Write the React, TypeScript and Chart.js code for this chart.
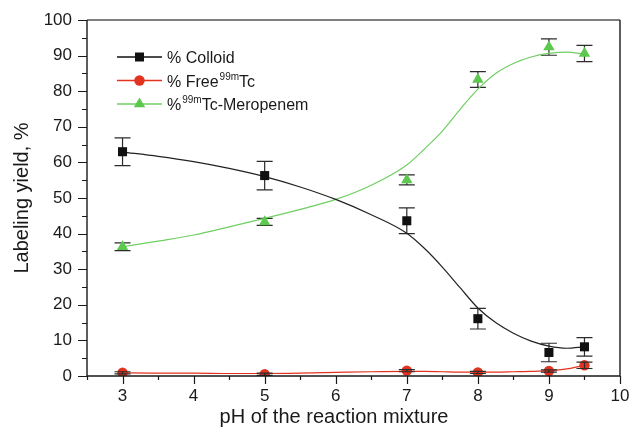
import React, { useEffect, useRef } from 'react';
import { Chart, registerables } from 'chart.js';

Chart.register(...registerables);

// ---- data ----
const phValues = [3, 5, 7, 8, 9, 9.5];
const colloid = [63.0, 56.3, 43.6, 16.1, 6.6, 8.2];
const colloidErr = [3.9, 4.0, 3.6, 2.9, 2.6, 2.6];
const freeTc = [0.9, 0.5, 1.5, 1.0, 1.4, 3.0];
const freeTcErr = [0.3, 0.3, 0.3, 0.3, 0.3, 0.9];
const meropenem = [36.3, 43.3, 55.1, 83.3, 92.4, 90.6];
const meropenemErr = [1.1, 1.0, 1.4, 2.2, 2.3, 2.3];

// fitted curves
const fitPh = [3, 3.5, 4, 4.5, 5, 5.5, 6, 6.5, 7, 7.25, 7.5, 7.75, 8, 8.25, 8.5, 8.75, 9, 9.25, 9.5];
const colloidFit = [62.9, 61.7, 60.2, 58.3, 56.0, 53.1, 49.6, 45.3, 40.1, 35.8, 30.6, 24.8, 19.1, 15.0, 12.0, 9.8, 8.4, 7.8, 8.2];
const freeFit = [0.9, 0.8, 0.8, 0.7, 0.7, 0.8, 1.0, 1.2, 1.3, 1.3, 1.2, 1.1, 1.1, 1.1, 1.2, 1.3, 1.5, 2.0, 3.0];
const meropenemFit = [36.3, 37.9, 39.6, 41.9, 44.3, 46.8, 49.6, 53.6, 59.3, 63.8, 68.8, 74.9, 80.6, 85.0, 87.8, 89.6, 90.6, 91.0, 90.4];

const xTicks = [3, 4, 5, 6, 7, 8, 9, 10];
const yTicks = [0, 10, 20, 30, 40, 50, 60, 70, 80, 90, 100];

const xTitle = 'pH of the reaction mixture';
const yTitle = 'Labeling yield, %';
const legendColloid: [string, boolean][] = [['% Colloid', false]];
const legendFree: [string, boolean][] = [['% Free', false], ['99m', true], ['Tc', false]];
const legendMero: [string, boolean][] = [['%', false], ['99m', true], ['Tc-Meropenem', false]];

const FONT = '"Liberation Sans", Arial, Helvetica, sans-serif';
const BLACK = '#111111';
const RED = '#e3321f';
const GREEN = '#5cc84e';
const GREEN_LINE = '#6fcf62';
const ERR = '#2b2b2b';

const pts = (xs: number[], ys: number[]) => xs.map((x, i) => ({ x, y: ys[i] }));

function drawMarker(ctx: CanvasRenderingContext2D, kind: string, x: number, y: number, color: string) {
  ctx.save();
  ctx.fillStyle = color;
  ctx.beginPath();
  if (kind === 'rect') {
    ctx.rect(x - 4.5, y - 4.5, 9, 9);
  } else if (kind === 'circle') {
    ctx.arc(x, y, 5.2, 0, Math.PI * 2);
  } else {
    const r = 6.6;
    ctx.moveTo(x, y - r);
    ctx.lineTo(x + r * Math.sin(Math.PI / 3), y + r / 2);
    ctx.lineTo(x - r * Math.sin(Math.PI / 3), y + r / 2);
    ctx.closePath();
  }
  ctx.fill();
  ctx.restore();
}

function drawErrors(chart: any, values: number[], errs: number[]) {
  const { ctx, scales } = chart;
  const xs = scales.x;
  const ys = scales.y;
  ctx.save();
  ctx.strokeStyle = ERR;
  ctx.lineWidth = 1.2;
  phValues.forEach((ph, i) => {
    const px = xs.getPixelForValue(ph);
    const top = ys.getPixelForValue(values[i] + errs[i]);
    const bot = ys.getPixelForValue(values[i] - errs[i]);
    ctx.beginPath();
    ctx.moveTo(px, top);
    ctx.lineTo(px, bot);
    ctx.moveTo(px - 8, top);
    ctx.lineTo(px + 8, top);
    ctx.moveTo(px - 8, bot);
    ctx.lineTo(px + 8, bot);
    ctx.stroke();
  });
  ctx.restore();
}

const errorPlugin = {
  id: 'errorBars',
  beforeDatasetsDraw(chart: any) {
    drawErrors(chart, colloid, colloidErr);
    drawErrors(chart, meropenem, meropenemErr);
  },
  afterDatasetsDraw(chart: any) {
    drawErrors(chart, freeTc, freeTcErr);
  },
};

const axesPlugin = {
  id: 'axesFrame',
  afterDraw(chart: any) {
    const { ctx, chartArea, scales } = chart;
    const { left, right, top, bottom } = chartArea;
    const xs = scales.x;
    const ys = scales.y;
    ctx.save();
    ctx.lineWidth = 1.4;
    ctx.strokeStyle = '#555555';
    ctx.beginPath();
    ctx.moveTo(left, top);
    ctx.lineTo(right, top);
    ctx.stroke();
    ctx.strokeStyle = '#1a1a1a';
    ctx.beginPath();
    ctx.moveTo(left, top);
    ctx.lineTo(left, bottom);
    ctx.lineTo(right, bottom);
    ctx.lineTo(right, top);
    ctx.stroke();
    ctx.lineWidth = 1.2;
    ctx.beginPath();
    for (let v = 2.5; v <= 10.001; v += 0.5) {
      const px = Math.round(xs.getPixelForValue(v)) + 0.5;
      const len = Math.abs(v - Math.round(v)) < 1e-6 ? 8 : 4;
      ctx.moveTo(px, bottom);
      ctx.lineTo(px, bottom + len);
    }
    for (let v = 0; v <= 100; v += 5) {
      const py = Math.round(ys.getPixelForValue(v)) + 0.5;
      const len = v % 10 === 0 ? 9 : 5;
      ctx.moveTo(left, py);
      ctx.lineTo(left - len, py);
    }
    ctx.stroke();
    ctx.fillStyle = '#1a1a1a';
    ctx.font = `20px ${FONT}`;
    ctx.textAlign = 'center';
    ctx.textBaseline = 'alphabetic';
    ctx.fillText(xTitle, 334, 423);
    ctx.save();
    ctx.translate(28, 198);
    ctx.rotate(-Math.PI / 2);
    ctx.fillText(yTitle, 0, 0);
    ctx.restore();
    ctx.restore();
  },
};

function drawRich(ctx: CanvasRenderingContext2D, parts: [string, boolean][], x: number, y: number) {
  let cx = x;
  parts.forEach(([txt, sup]) => {
    if (sup) {
      ctx.font = `10px ${FONT}`;
      ctx.fillText(txt, cx + 1, y - 7);
      cx += ctx.measureText(txt).width + 1;
    } else {
      ctx.font = `16px ${FONT}`;
      ctx.fillText(txt, cx, y);
      cx += ctx.measureText(txt).width;
    }
  });
}

const legendPlugin = {
  id: 'customLegend',
  afterDraw(chart: any) {
    const { ctx } = chart;
    const entries: [string, string, string, [string, boolean][], number][] = [
      ['rect', BLACK, BLACK, legendColloid, 57],
      ['circle', RED, RED, legendFree, 80.5],
      ['triangle', GREEN, GREEN_LINE, legendMero, 104],
    ];
    ctx.save();
    entries.forEach(([kind, color, lineColor, parts, y]) => {
      ctx.strokeStyle = lineColor;
      ctx.lineWidth = 1.3;
      ctx.beginPath();
      ctx.moveTo(117, y);
      ctx.lineTo(162, y);
      ctx.stroke();
      drawMarker(ctx, kind, 139.5, y, color);
      ctx.fillStyle = '#1a1a1a';
      ctx.textAlign = 'left';
      ctx.textBaseline = 'alphabetic';
      drawRich(ctx, parts, 167, y + 6);
    });
    ctx.restore();
  },
};

export default function App() {
  const ref = useRef<HTMLCanvasElement>(null);

  useEffect(() => {
    const canvas = ref.current;
    if (!canvas) return;
    const tickFont = { family: FONT, size: 17 };
    const fitLine = { pointRadius: 0, borderWidth: 1.2, cubicInterpolationMode: 'monotone', fill: false };
    const chart = new Chart(canvas, {
      type: 'line',
      data: {
        datasets: [
          { data: pts(phValues, colloid), showLine: false, pointStyle: 'rect', pointRadius: 6.4, backgroundColor: BLACK, borderColor: BLACK, borderWidth: 0 },
          { data: pts(phValues, freeTc), showLine: false, pointStyle: 'circle', pointRadius: 5.2, backgroundColor: RED, borderColor: RED, borderWidth: 0 },
          { data: pts(phValues, meropenem), showLine: false, pointStyle: 'triangle', pointRadius: 6.6, backgroundColor: GREEN, borderColor: GREEN, borderWidth: 0 },
          { data: pts(fitPh, colloidFit), borderColor: '#222222', ...fitLine },
          { data: pts(fitPh, freeFit), borderColor: RED, ...fitLine },
          { data: pts(fitPh, meropenemFit), borderColor: GREEN_LINE, ...fitLine },
        ] as any,
      },
      options: {
        responsive: false,
        animation: false,
        layout: { padding: { top: 20, right: 10, left: 0, bottom: 0 } },
        plugins: { legend: { display: false }, tooltip: { enabled: false } },
        scales: {
          x: {
            type: 'linear',
            min: 2.5,
            max: 10,
            afterBuildTicks: (s: any) => { s.ticks = xTicks.map((v) => ({ value: v })); },
            afterFit: (s: any) => { s.height = 51; s.paddingLeft = 0; s.paddingRight = 0; },
            grid: { display: false },
            border: { display: false },
            ticks: { font: tickFont, color: '#1a1a1a', padding: 2, autoSkip: false, maxRotation: 0 },
          },
          y: {
            type: 'linear',
            min: 0,
            max: 100,
            afterBuildTicks: (s: any) => { s.ticks = yTicks.map((v) => ({ value: v })); },
            afterFit: (s: any) => { s.width = 87; s.paddingTop = 0; s.paddingBottom = 0; },
            grid: { display: false },
            border: { display: false },
            ticks: { font: tickFont, color: '#1a1a1a', padding: 7, autoSkip: false },
          },
        },
      } as any,
      plugins: [errorPlugin, axesPlugin, legendPlugin],
    });
    return () => chart.destroy();
  }, []);

  return (
    <div style={{ position: 'fixed', left: 0, top: 0, width: 630, height: 427, background: '#ffffff' }}>
      <canvas ref={ref} width={630} height={427} style={{ display: 'block', width: 630, height: 427 }} />
    </div>
  );
}
